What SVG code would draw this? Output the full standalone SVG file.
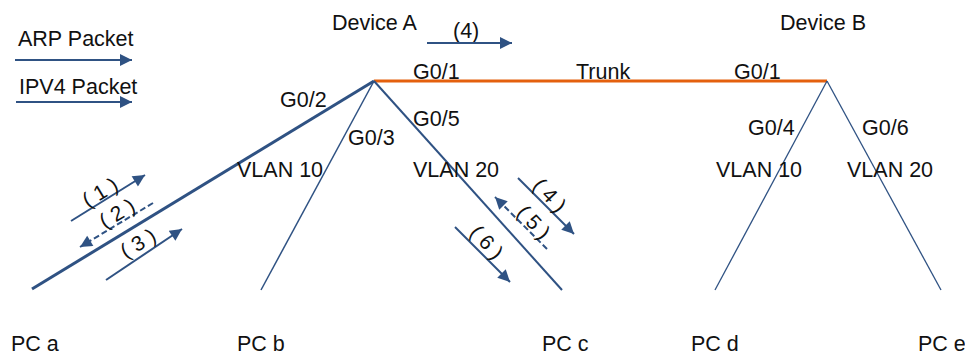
<svg xmlns="http://www.w3.org/2000/svg" width="965" height="356" viewBox="0 0 965 356">
<defs>
<marker id="ah" viewBox="0 0 10 10" refX="10" refY="5" markerWidth="7" markerHeight="6" orient="auto" markerUnits="strokeWidth">
<path d="M0,0 L10,5 L0,10 Z" fill="#2F5283"/>
</marker>
</defs>
<style>
text{font-family:"Liberation Sans",Arial,sans-serif;font-size:21.5px;fill:#111}
.cj{font-size:21px}
.ln{stroke:#2F5283;fill:none}
.ar{stroke:#2F5283;stroke-width:2;fill:none;marker-end:url(#ah)}
.da{stroke-dasharray:6 3}
</style>
<rect width="965" height="356" fill="#fff"/>
<g id="legend">
<text x="18" y="46">ARP Packet</text>
<line class="ar" x1="15" y1="60" x2="132" y2="60"/>
<text x="19" y="94">IPV4 Packet</text>
<line class="ar" x1="16" y1="102" x2="132" y2="102"/>
</g>
<g id="connectors">
<line x1="374" y1="81" x2="827" y2="81" stroke="#E4600D" stroke-width="3"/>
<line class="ln" x1="374" y1="81" x2="32" y2="289" stroke-width="3"/>
<line class="ln" x1="374" y1="81" x2="261" y2="290" stroke-width="1.5"/>
<line class="ln" x1="374" y1="81" x2="562" y2="290" stroke-width="2"/>
<line class="ln" x1="827" y1="81" x2="715" y2="290" stroke-width="1.3"/>
<line class="ln" x1="827" y1="81" x2="941" y2="290" stroke-width="1.3"/>
<text x="280" y="107">G0/2</text>
<text x="413" y="79">G0/1</text>
<text x="576" y="79">Trunk</text>
<text x="734" y="79">G0/1</text>
<text x="348" y="145">G0/3</text>
<text x="413" y="126">G0/5</text>
<text x="237" y="177">VLAN 10</text>
<text x="413" y="177">VLAN 20</text>
<text x="748" y="135">G0/4</text>
<text x="862" y="135">G0/6</text>
<text x="716" y="177">VLAN 10</text>
<text x="847" y="177">VLAN 20</text>
</g>
<g id="flows">
<text x="453" y="38">(4)</text>
<line class="ar" x1="427" y1="43" x2="512" y2="43"/>
<line class="ar" x1="71" y1="221" x2="145" y2="175"/>
<line class="ar da" x1="153" y1="203" x2="80" y2="247"/>
<line class="ar" x1="106" y1="280" x2="182" y2="229"/>
<text class="cj" text-anchor="middle" dominant-baseline="central" transform="translate(100,192) rotate(-31)">( 1 )</text>
<text class="cj" text-anchor="middle" dominant-baseline="central" transform="translate(117,213) rotate(-31)">( 2 )</text>
<text class="cj" text-anchor="middle" dominant-baseline="central" transform="translate(138,243) rotate(-31)">( 3 )</text>
<line class="ar" x1="518" y1="178" x2="574" y2="234"/>
<line class="ar da" x1="547" y1="249" x2="495" y2="197"/>
<line class="ar" x1="455" y1="227" x2="510" y2="282"/>
<text class="cj" text-anchor="middle" dominant-baseline="central" transform="translate(550,195) rotate(47)">( 4 )</text>
<text class="cj" text-anchor="middle" dominant-baseline="central" transform="translate(534,222) rotate(47)">( 5 )</text>
<text class="cj" text-anchor="middle" dominant-baseline="central" transform="translate(487,242) rotate(47)">( 6 )</text>
</g>
<g id="deviceA"><text x="332" y="30">Device A</text></g>
<g id="deviceB"><text x="780" y="30">Device B</text></g>
<g id="pca"><text x="11" y="351">PC a</text></g>
<g id="pcb"><text x="237" y="351">PC b</text></g>
<g id="pcc"><text x="542" y="351">PC c</text></g>
<g id="pcd"><text x="691" y="351">PC d</text></g>
<g id="pce"><text x="918" y="351">PC e</text></g>
</svg>
